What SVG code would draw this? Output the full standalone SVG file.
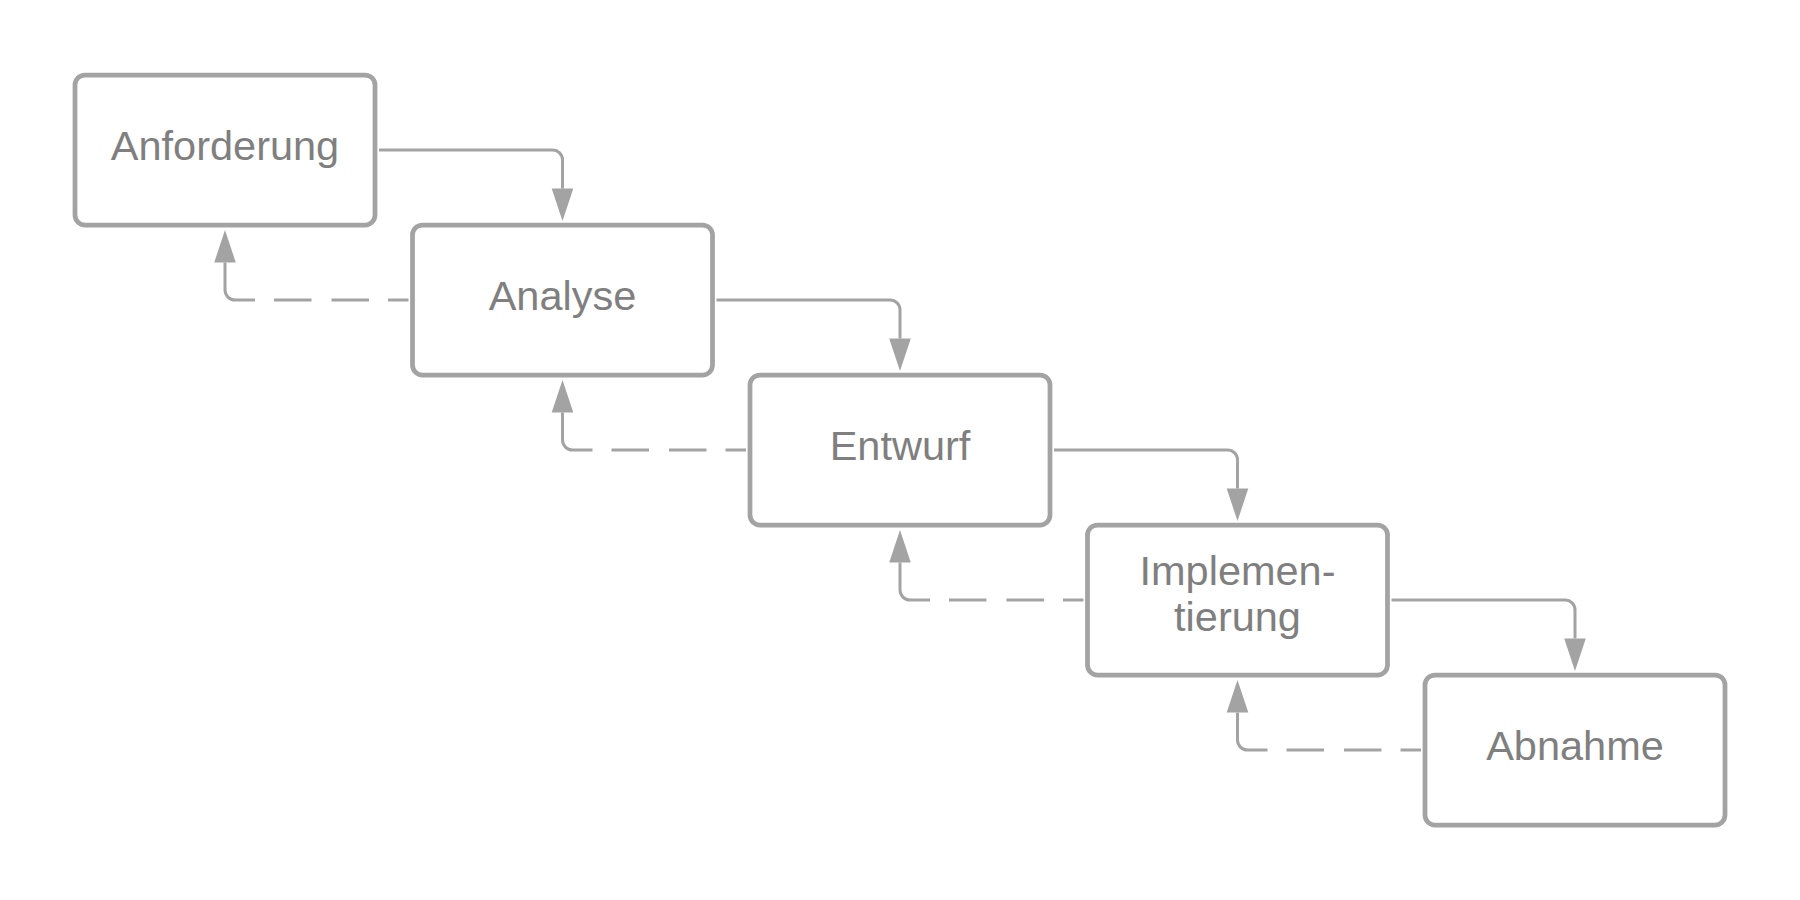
<svg xmlns="http://www.w3.org/2000/svg" width="1800" height="900" viewBox="0 0 1800 900">
<style>
.box{fill:#ffffff;stroke:#a3a3a3;stroke-width:4.75}
.lbl{font-family:"Liberation Sans",Arial,sans-serif;font-size:41.5px;fill:#7f7f7f;text-anchor:middle}
.fwd{fill:none;stroke:#a3a3a3;stroke-width:3;marker-end:url(#arr)}
.back{fill:none;stroke:#a3a3a3;stroke-width:3;stroke-dasharray:20.5 19 37.5 20 37.5 19 400;marker-end:url(#arr)}
</style>
<defs>
<marker id="arr" markerUnits="userSpaceOnUse" markerWidth="33" markerHeight="22" refX="0" refY="10.8" orient="auto" overflow="visible">
<path d="M0,0 L32.5,10.8 L0,21.6 Z" fill="#a3a3a3"/>
</marker>
</defs>
<rect width="1800" height="900" fill="#ffffff"/>
<g id="connectors">
<path class="fwd" d="M379,150 H552.5 A10,10 0 0 1 562.5,160 V188.5"/>
<path class="fwd" d="M716.5,300 H890 A10,10 0 0 1 900,310 V338.5"/>
<path class="fwd" d="M1054,450 H1227.5 A10,10 0 0 1 1237.5,460 V488.5"/>
<path class="fwd" d="M1391.5,600 H1565 A10,10 0 0 1 1575,610 V638.5"/>
<path class="back" d="M408.5,300 H235 A10,10 0 0 1 225,290 V262.5"/>
<path class="back" d="M746,450 H572.5 A10,10 0 0 1 562.5,440 V412.5"/>
<path class="back" d="M1083.5,600 H910 A10,10 0 0 1 900,590 V562.5"/>
<path class="back" d="M1421,750 H1247.5 A10,10 0 0 1 1237.5,740 V712.5"/>
</g>
<g id="anforderung">
<rect class="box" x="75" y="75" width="300" height="150" rx="10"/>
<text class="lbl" x="225" y="159.5">Anforderung</text>
</g>
<g id="analyse">
<rect class="box" x="412.5" y="225" width="300" height="150" rx="10"/>
<text class="lbl" x="562.5" y="309.5">Analyse</text>
</g>
<g id="entwurf">
<rect class="box" x="750" y="375" width="300" height="150" rx="10"/>
<text class="lbl" x="900" y="459.5">Entwurf</text>
</g>
<g id="implementierung">
<rect class="box" x="1087.5" y="525" width="300" height="150" rx="10"/>
<text class="lbl" x="1237.5" y="584.5">Implemen-</text>
<text class="lbl" x="1237.5" y="630.5">tierung</text>
</g>
<g id="abnahme">
<rect class="box" x="1425" y="675" width="300" height="150" rx="10"/>
<text class="lbl" x="1575" y="759.5">Abnahme</text>
</g>
</svg>
